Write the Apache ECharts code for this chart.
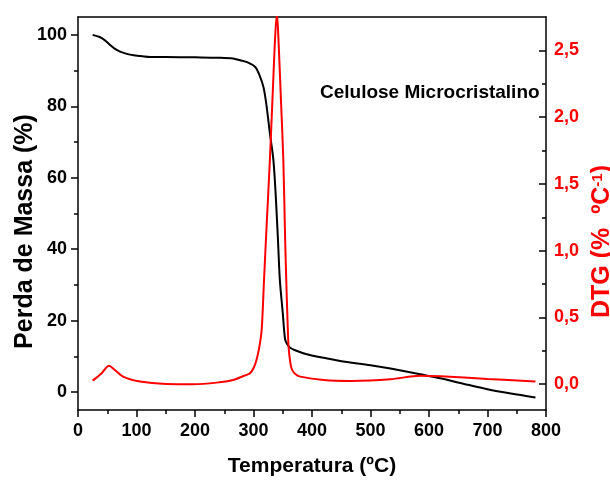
<!DOCTYPE html>
<html>
<head>
<meta charset="utf-8">
<script src="https://cdn.jsdelivr.net/npm/echarts@6/dist/echarts.min.js"></script>
<style>
  html, body { margin: 0; padding: 0; background: #fff; }
  #chart { width: 610px; height: 482px; }
</style>
</head>
<body>
<div id="chart"></div>
<script>
  // TGA - perda de massa (%)
  const tgaTemp = [25, 37, 45, 54, 62, 72, 85, 95, 110, 123, 150, 200, 240, 265, 277, 290, 303, 310, 317, 322, 328, 334, 338, 342, 345, 350, 354, 358, 362, 370, 391, 420, 448, 500, 534, 585, 619, 660, 700, 740, 782]
  const tgaMass = [100, 99.4, 98.6, 97.3, 96.2, 95.3, 94.6, 94.3, 94.0, 93.8, 93.8, 93.7, 93.6, 93.4, 92.9, 92.3, 91.0, 88.8, 85.4, 80.5, 72.5, 65.0, 55.0, 42.0, 31.5, 22.2, 14.8, 13.3, 12.5, 11.8, 10.6, 9.6, 8.7, 7.5, 6.6, 5.0, 3.9, 2.3, 0.8, -0.4, -1.5]

  // DTG (% ºC-1)
  const dtgTemp = [25, 40, 53, 62, 77, 106, 151, 197, 237, 265, 288, 294, 300, 305, 310, 314, 318, 322, 328, 334, 337, 340, 343, 347, 351, 354, 356, 358, 360, 363, 366, 372, 380, 420, 466, 534, 585, 620, 700, 782]
  const dtgVal = [0.027, 0.08, 0.139, 0.11, 0.057, 0.02, 0.002, 0.0, 0.012, 0.032, 0.07, 0.082, 0.12, 0.18, 0.28, 0.41, 0.78, 1.15, 1.68, 2.3, 2.6, 2.78, 2.55, 2.12, 1.68, 1.1, 0.78, 0.5, 0.28, 0.16, 0.107, 0.075, 0.057, 0.032, 0.025, 0.037, 0.064, 0.06, 0.04, 0.02]

  const massTicks = [0, 20, 40, 60, 80, 100]
  const massMinor = [10, 30, 50, 70, 90]
  const dtgTicks = [0, 0.5, 1.0, 1.5, 2.0, 2.5]
  const dtgMinor = [0.25, 0.75, 1.25, 1.75, 2.25]

  const font = 'Liberation Sans'
  const massRange = [-5, 105]
  const dtgRange = [-0.193, 2.75]

  let tga = tgaTemp.map((t, i) => [t, tgaMass[i]])
  let dtg = dtgTemp.map((t, i) => [t, dtgVal[i]])

  let chart = echarts.init(document.getElementById('chart'))
  chart.setOption({
    animation: false,
    grid: { left: 78, right: 64, top: 17, bottom: 72, outerBoundsMode: 'none', containLabel: false },
    graphic: [
      {
        type: 'text',
        left: 320,
        top: 83,
        style: { text: 'Celulose Microcristalino', font: 'bold 19px "Liberation Sans"', fill: '#000' }
      }
    ],
    xAxis: [
      {
        type: 'value',
        min: 0,
        max: 800,
        interval: 100,
        name: 'Temperatura (ºC)',
        nameLocation: 'middle',
        nameGap: 46,
        nameTextStyle: { fontFamily: font, fontSize: 21, fontWeight: 'bold', color: '#000' },
        axisLine: { onZero: false, lineStyle: { color: '#000', width: 1.5 } },
        axisTick: { length: 7, lineStyle: { color: '#000', width: 1.5 } },
        minorTick: { show: true, splitNumber: 2, length: 4, lineStyle: { color: '#000', width: 1.5 } },
        axisLabel: { margin: 12, fontFamily: font, fontSize: 18, fontWeight: 'bold', color: '#000' },
        splitLine: { show: false }
      },
      {
        // borda superior
        type: 'value',
        position: 'top',
        min: 0,
        max: 800,
        axisLine: { onZero: false, lineStyle: { color: '#000', width: 1.5 } },
        axisTick: { show: false },
        axisLabel: { show: false },
        splitLine: { show: false }
      }
    ],
    yAxis: [
      {
        type: 'value',
        position: 'left',
        min: massRange[0],
        max: massRange[1],
        name: 'Perda de Massa (%)',
        nameLocation: 'middle',
        nameGap: 40,
        nameMoveOverlap: false,
        nameTextStyle: { fontFamily: font, fontSize: 25, fontWeight: 'bold', color: '#000', padding: [0, 36, 0, 0] },
        axisLine: { show: true, onZero: false, lineStyle: { color: '#000', width: 1.5 } },
        axisTick: { length: 7, customValues: massTicks, lineStyle: { color: '#000', width: 1.5 } },
        axisLabel: { margin: 11, customValues: massTicks, fontFamily: font, fontSize: 18, fontWeight: 'bold', color: '#000' },
        splitLine: { show: false }
      },
      {
        type: 'value',
        position: 'right',
        min: dtgRange[0],
        max: dtgRange[1],
        name: 'DTG (%  ºC{sup|-1})',
        nameLocation: 'middle',
        nameGap: 40,
        nameTextStyle: {
          fontFamily: font, fontSize: 25, fontWeight: 'bold', color: '#f00', padding: [0, 56, 0, 0],
          rich: {
            sup: { fontFamily: font, fontSize: 15, fontWeight: 'bold', color: '#f00', verticalAlign: 'top' }
          }
        },
        axisLine: { show: true, onZero: false, lineStyle: { color: '#000', width: 1.5 } },
        axisTick: { inside: true, length: 7, customValues: dtgTicks, lineStyle: { color: '#000', width: 1.5 } },
        axisLabel: {
          margin: 8, customValues: dtgTicks, fontFamily: font, fontSize: 18, fontWeight: 'bold', color: '#f00',
          formatter: v => v.toFixed(1).replace('.', ',')
        },
        splitLine: { show: false }
      },
      {
        // ticks menores - esquerda
        type: 'value',
        position: 'left',
        min: massRange[0],
        max: massRange[1],
        axisLine: { show: false, onZero: false },
        axisTick: { length: 4, customValues: massMinor, lineStyle: { color: '#000', width: 1.5 } },
        axisLabel: { show: false },
        splitLine: { show: false }
      },
      {
        // ticks menores - direita
        type: 'value',
        position: 'right',
        min: dtgRange[0],
        max: dtgRange[1],
        axisLine: { show: false, onZero: false },
        axisTick: { inside: true, length: 4, customValues: dtgMinor, lineStyle: { color: '#000', width: 1.5 } },
        axisLabel: { show: false },
        splitLine: { show: false }
      }
    ],
    series: [
      {
        name: 'TGA',
        type: 'line',
        xAxisIndex: 0,
        yAxisIndex: 0,
        data: tga,
        showSymbol: false,
        smooth: 0.3,
        lineStyle: { color: '#000', width: 2 }
      },
      {
        name: 'DTG',
        type: 'line',
        xAxisIndex: 0,
        yAxisIndex: 1,
        data: dtg,
        showSymbol: false,
        smooth: 0.3,
        lineStyle: { color: '#f00', width: 2 }
      }
    ]
  })
</script>
</body>
</html>
